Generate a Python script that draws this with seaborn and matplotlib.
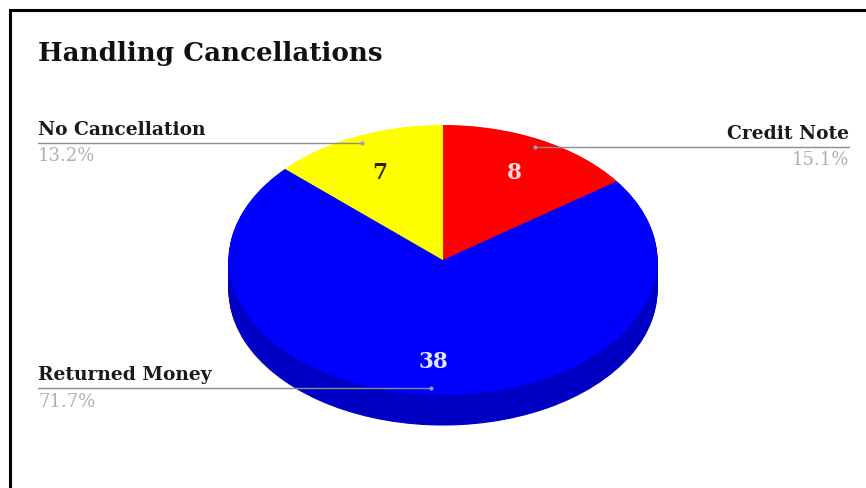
import seaborn as sns
import matplotlib.pyplot as plt

sns.set_theme(style="white")
plt.rcParams['font.family'] = ['DejaVu Serif']

# data
categories = ["Credit Note", "Returned Money", "No Cancellation"]
counts = [8, 38, 7]
percents = ["15.1%", "71.7%", "13.2%"]

top_colors = ["#ff0000", "#0000ff", "#ffff00"]
side_colors = ["#b00000", "#0000c4", "#b0b000"]
count_colors = ["#ffdddd", "#e4e4ff", "#2a2a00"]

W, H = 866, 488
cx, cy, rx, ry = 443, 260, 214, 135
depth = 30

fig = plt.figure(figsize=(W / 100, H / 100), dpi=100)
fig.patch.set_facecolor("white")

# pie axes, squashed so the circle turns into an ellipse
ax = fig.add_axes([0, 0, 1, 1])
for d in range(depth, 0, -1):
    wedges, _ = ax.pie(counts, colors=side_colors, startangle=90, counterclock=False, center=(0, -d / ry))
    for w in wedges:
        w.set_edgecolor(w.get_facecolor())
        w.set_linewidth(0.8)
wedges, _ = ax.pie(counts, colors=top_colors, startangle=90, counterclock=False)
for w in wedges:
    w.set_linewidth(0)
ax.set_aspect("auto")
ax.set_xlim(-cx / rx, (W - cx) / rx)
ax.set_ylim(-(H - cy) / ry, cy / ry)
ax.axis("off")

# overlay in pixel coordinates for the labels
ov = fig.add_axes([0, 0, 1, 1])
ov.set_xlim(0, W)
ov.set_ylim(H, 0)
ov.axis("off")
ov.patch.set_alpha(0)

# page border, open on the right and bottom
ov.plot([10, 10, W], [H, 10, 10], color="black", lw=2.2, solid_joinstyle="miter")

ov.text(38, 53, "Handling Cancellations", fontsize=18.8, fontweight="bold",
        color="#111111", va="center", ha="left")

label_pos = [
    (849, 134, 160, "right", 535, 146.5),
    (38, 375, 402, "left", 431, 388),
    (38, 130, 156, "left", 362, 142.5),
]
count_pos = [(514, 173), (433, 362), (380, 173)]

for i, name in enumerate(categories):
    x, y_name, y_pct, ha, x_end, y_line = label_pos[i]
    ov.text(x, y_name, name, fontsize=13.4, fontweight="bold", color="#1a1a1a", ha=ha, va="center")
    ov.text(x, y_pct, percents[i], fontsize=13, color="#b0b0b0", ha=ha, va="center")
    ov.plot([x, x_end], [y_line, y_line], color="#8c8c8c", lw=1)
    ov.plot([x_end], [y_line], "o", color="#9a9ac8", ms=3, mew=0)
    cnt_x, cnt_y = count_pos[i]
    ov.text(cnt_x, cnt_y, str(counts[i]), fontsize=15.5, fontweight="bold",
            color=count_colors[i], ha="center", va="center")

fig.savefig("out.png", dpi=100)
plt.close(fig)
